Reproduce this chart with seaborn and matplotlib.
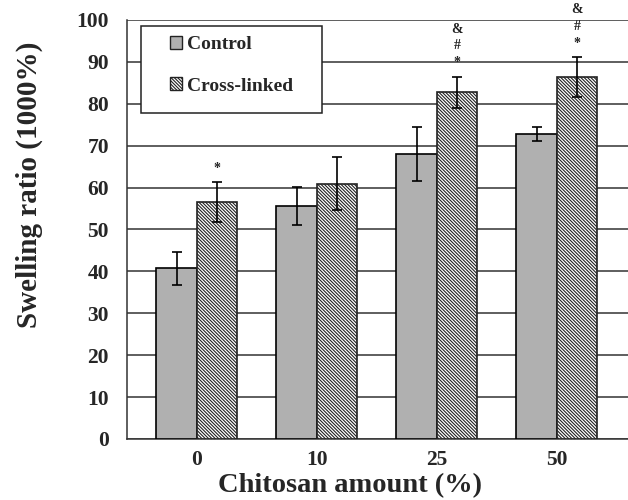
import matplotlib
matplotlib.use("Agg")
import matplotlib.pyplot as plt
import seaborn as sns
import pandas as pd
from matplotlib.patches import Patch, Rectangle

categories = ["0", "10", "25", "50"]
groups = ["Control", "Cross-linked"]
control_vals = [40.7, 55.6, 68.0, 72.8]
control_err = [4.0, 4.6, 6.4, 1.7]
cross_vals = [56.5, 60.9, 82.7, 86.4]
cross_err = [4.8, 6.3, 3.8, 4.7]
cross_marks = ["*", "", "*#&", "*#&"]

sns.set_theme(style="white")
plt.rcParams["font.family"] = ["Liberation Serif", "DejaVu Serif"]
plt.rcParams["font.weight"] = "bold"
plt.rcParams["hatch.linewidth"] = 0.8

HATCH = "\\" * 10

df = pd.DataFrame({
    "Chitosan": categories * 2,
    "Group": [groups[0]] * 4 + [groups[1]] * 4,
    "Value": control_vals + cross_vals,
})

fig = plt.figure(figsize=(6.28, 5.0), dpi=100)
ax = fig.add_axes([127 / 628, 1 - 439 / 500, 1 - 127 / 628, (439 - 20) / 500])

sns.barplot(data=df, x="Chitosan", y="Value", hue="Group", order=categories,
            hue_order=groups, palette=["#b0b0b0", "white"], width=0.675,
            errorbar=None, edgecolor="black", linewidth=1.2, ax=ax,
            legend=False, saturation=1, zorder=3)

conts = list(ax.containers)[:2]
for bar in conts[1]:
    bar.set_hatch(HATCH)
    bar.set_edgecolor("#222222")

errs = [control_err, cross_err]
vals = [control_vals, cross_vals]
centers = []
for cont in conts:
    centers.append([b.get_x() + b.get_width() / 2 for b in cont])
for ci in range(2):
    ax.errorbar(centers[ci], vals[ci], yerr=errs[ci], fmt="none", ecolor="black",
                elinewidth=1.2, capsize=3.5, capthick=1.2, zorder=4)

xs1 = centers[1]
for i, marks in enumerate(cross_marks):
    top = cross_vals[i] + cross_err[i]
    for j, m in enumerate(marks):
        ax.text(xs1[i], top + 3.3 + 4.0 * j, m, ha="center", va="center",
                fontsize=10, fontweight="bold", color="#222222", clip_on=False,
                zorder=5)

ax.set_ylim(0, 100)
ax.set_xlim(-0.583, 3.592)
ax.set_yticks(range(0, 101, 10))
ax.yaxis.grid(True, color="#333333", linewidth=1.1)
ax.set_axisbelow(True)
for s in ["top", "right"]:
    ax.spines[s].set_visible(False)
ax.spines["left"].set_color("#333333")
ax.spines["bottom"].set_color("#333333")
ax.spines["left"].set_linewidth(1.1)
ax.spines["bottom"].set_linewidth(1.1)
ax.tick_params(axis="y", length=0, pad=13, labelsize=15.5)
ax.tick_params(axis="x", length=0, pad=8, labelsize=15.5)
for lab in ax.get_xticklabels() + ax.get_yticklabels():
    lab.set_fontweight("bold")

ax.set_ylabel("Swelling ratio (1000%)", fontsize=21, fontweight="bold")
ax.yaxis.set_label_coords(-(127 - 29) / 501, (439 - 185) / 419)
ax.yaxis.label.set_va("center")
ax.set_xlabel("Chitosan amount (%)", fontsize=20.5, fontweight="bold")
ax.xaxis.set_label_coords((350 - 127) / 501, -(473 - 439) / 419)
ax.xaxis.label.set_va("top")

# legend frame
ax.add_patch(Rectangle((14 / 501, (439 - 113) / 419), (322 - 141) / 501,
                       (113 - 26) / 419, transform=ax.transAxes,
                       facecolor="white", edgecolor="#222222", linewidth=1.1,
                       zorder=6))
handles = [Patch(facecolor="#b0b0b0", edgecolor="#222222", linewidth=1.0),
           Patch(facecolor="white", edgecolor="#222222", linewidth=1.0,
                 hatch=HATCH)]
leg = ax.legend(handles, groups, loc="upper left",
                bbox_to_anchor=((170 - 127) / 501, (439 - 36) / 419),
                frameon=False, borderpad=0, borderaxespad=0,
                handlelength=0.62, handleheight=0.62, handletextpad=0.25,
                labelspacing=1.25, prop={"size": 14, "weight": "bold"})
leg.set_zorder(7)

fig.savefig("out.png", dpi=100)
